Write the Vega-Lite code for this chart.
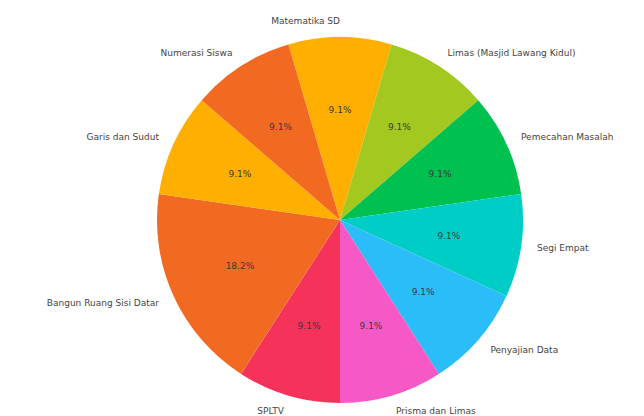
{
  "$schema": "https://vega.github.io/schema/vega-lite/v6.json",
  "width": 644,
  "height": 416,
  "autosize": {"type": "fit", "contains": "padding"},
  "padding": {"left": 36, "top": 24, "right": 0, "bottom": 0},
  "background": "white",
  "config": {"view": {"stroke": null}, "font": "DejaVu Sans"},
  "data": {
    "values": [
      {"order": 1, "kategori": "Matematika SD", "jumlah": 1, "pct": "9.1%", "sisi": "kiri"},
      {"order": 2, "kategori": "Limas (Masjid Lawang Kidul)", "jumlah": 1, "pct": "9.1%", "sisi": "kanan"},
      {"order": 3, "kategori": "Pemecahan Masalah", "jumlah": 1, "pct": "9.1%", "sisi": "kanan"},
      {"order": 4, "kategori": "Segi Empat", "jumlah": 1, "pct": "9.1%", "sisi": "kanan"},
      {"order": 5, "kategori": "Penyajian Data", "jumlah": 1, "pct": "9.1%", "sisi": "kanan"},
      {"order": 6, "kategori": "Prisma dan Limas", "jumlah": 1, "pct": "9.1%", "sisi": "kanan"},
      {"order": 7, "kategori": "SPLTV", "jumlah": 1, "pct": "9.1%", "sisi": "kiri"},
      {"order": 8, "kategori": "Bangun Ruang Sisi Datar", "jumlah": 2, "pct": "18.2%", "sisi": "kiri"},
      {"order": 9, "kategori": "Garis dan Sudut", "jumlah": 1, "pct": "9.1%", "sisi": "kiri"},
      {"order": 10, "kategori": "Numerasi Siswa", "jumlah": 1, "pct": "9.1%", "sisi": "kiri"}
    ]
  },
  "encoding": {
    "theta": {"field": "jumlah", "type": "quantitative", "stack": true, "scale": {"range": [-0.2856, 5.9976]}},
    "order": {"field": "order", "type": "quantitative", "sort": "ascending"}
  },
  "layer": [
    {
      "mark": {"type": "arc", "outerRadius": 183, "stroke": null},
      "encoding": {
        "color": {
          "field": "kategori",
          "type": "nominal",
          "legend": null,
          "scale": {
            "domain": ["Matematika SD", "Limas (Masjid Lawang Kidul)", "Pemecahan Masalah", "Segi Empat", "Penyajian Data", "Prisma dan Limas", "SPLTV", "Bangun Ruang Sisi Datar", "Garis dan Sudut", "Numerasi Siswa"],
            "range": ["#FFAF00", "#A3C81F", "#00C050", "#00CEC6", "#2BBDF8", "#F659C6", "#F5325A", "#F26A22", "#FFAF00", "#F26A22"]
          }
        }
      }
    },
    {
      "mark": {"type": "text", "radius": 110, "fontSize": 9, "color": "#3a3a3a", "baseline": "middle", "align": "center"},
      "encoding": {"text": {"field": "pct"}}
    },
    {
      "mark": {"type": "text", "radius": 199, "fontSize": 9, "color": "#444444", "baseline": "middle", "align": {"expr": "datum.sisi == 'kiri' ? 'right' : 'left'"}},
      "encoding": {"text": {"field": "kategori"}}
    }
  ]
}
